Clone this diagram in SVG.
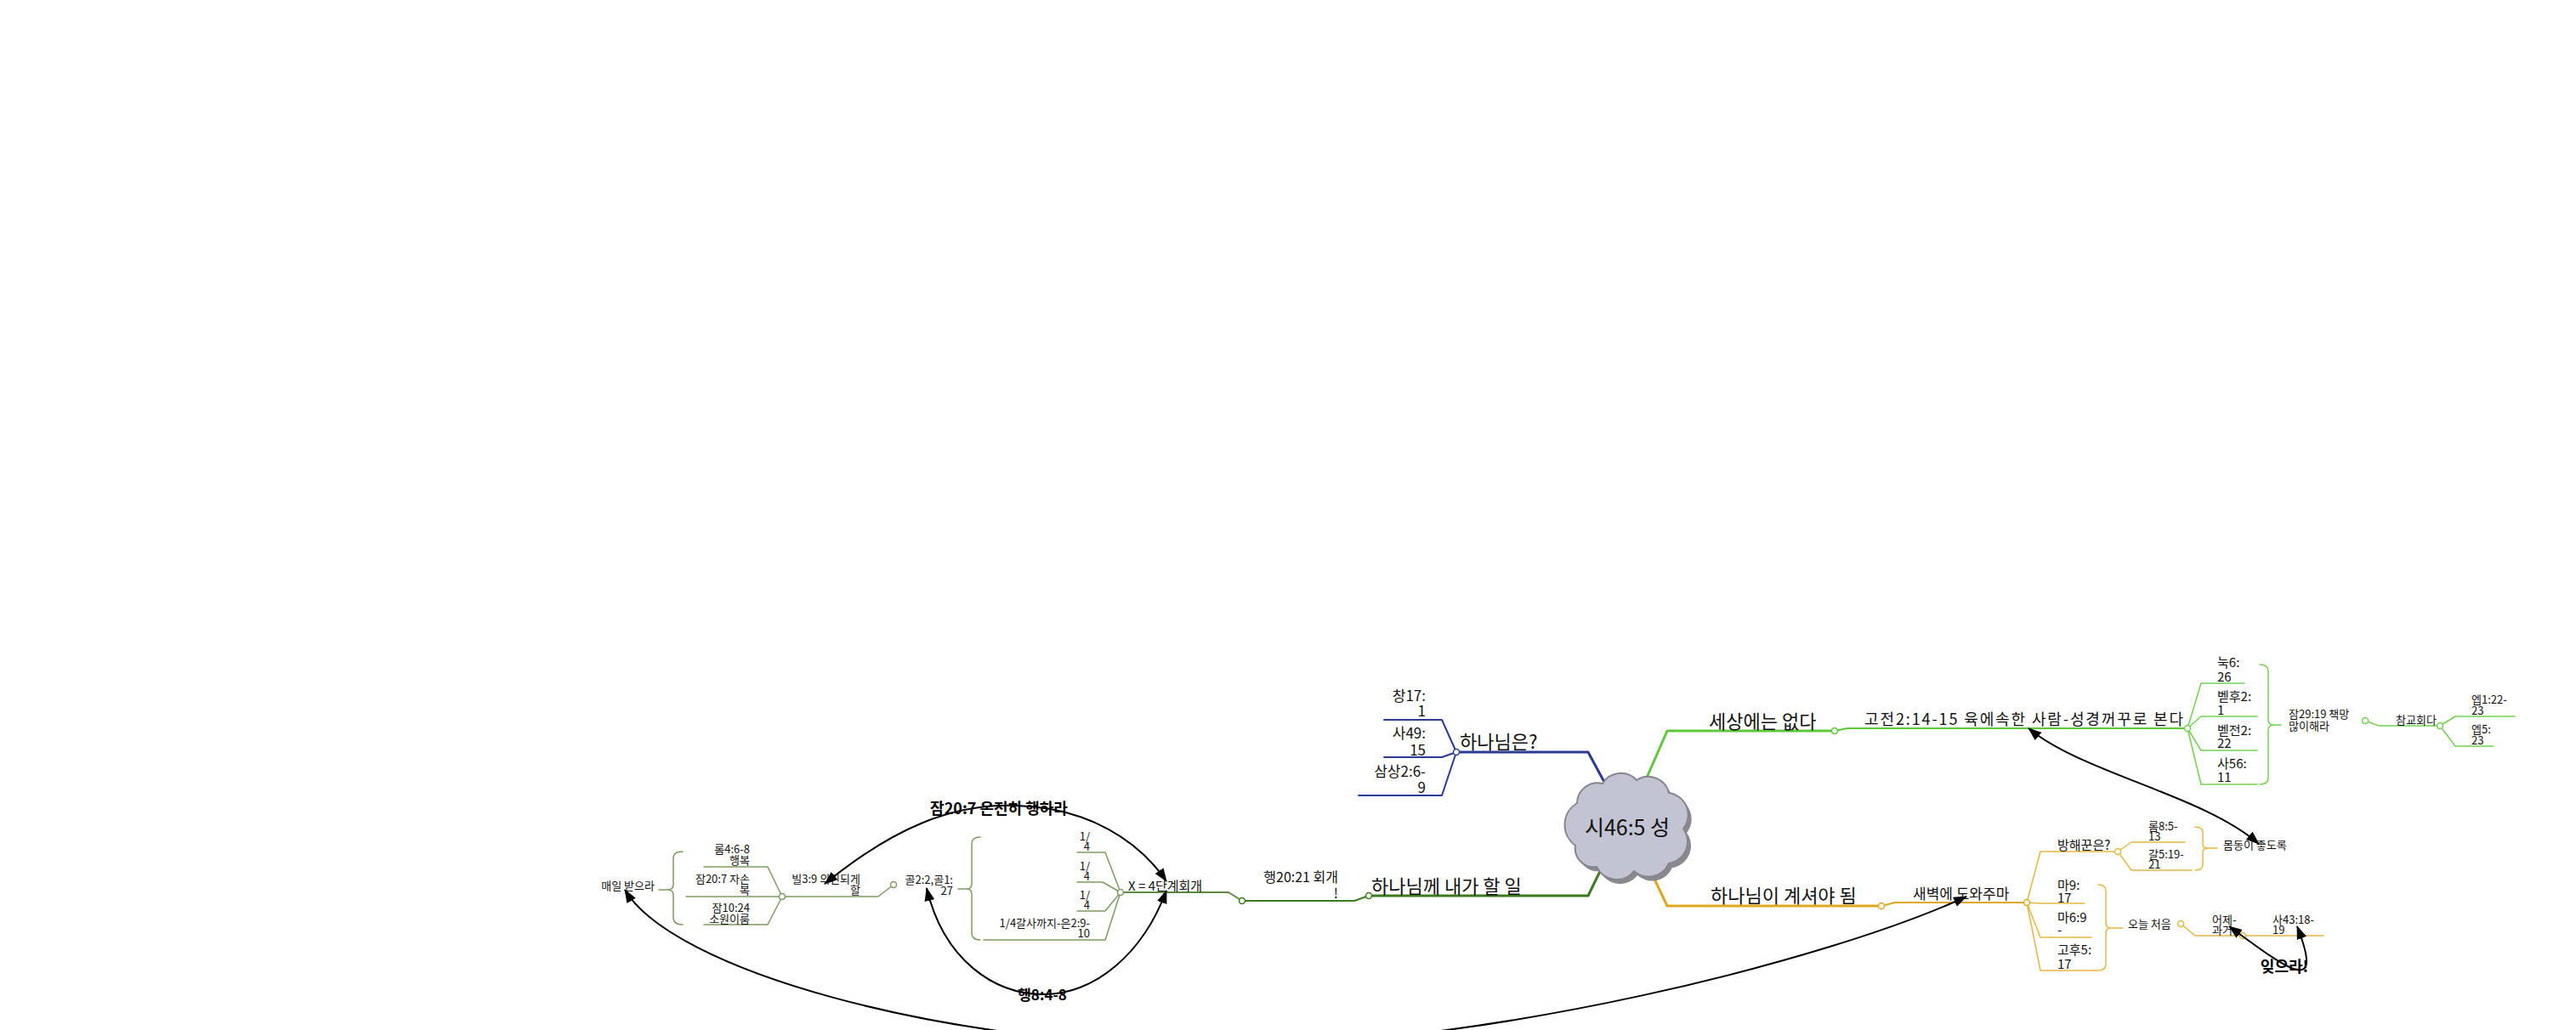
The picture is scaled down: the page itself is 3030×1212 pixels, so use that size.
<svg xmlns="http://www.w3.org/2000/svg" width="3030" height="1212" viewBox="0 0 3030 1212">
<style>
text{font-family:"Noto Sans CJK KR","Noto Sans",sans-serif;fill:#111}
.f22{font-size:22px}.f18{font-size:18px}.f17{font-size:17px}.f16{font-size:16px}.f15{font-size:15px}.f13{font-size:13px}
.e{text-anchor:end}.m{text-anchor:middle}
.lbl{font-weight:bold;fill:#000}
.ln{fill:none;stroke-linejoin:round;stroke-linecap:round}
.navy{stroke:#2b3a93}.dg{stroke:#3d7a1f}.sage{stroke:#7d9b62}.olive{stroke:#5e8a3e}.gr{stroke:#5cc83a}.lg{stroke:#72d250}.gold{stroke:#e0a820}.lgold{stroke:#e6b840}
.w3{stroke-width:3}.w2{stroke-width:2}.w15{stroke-width:1.5}
.dot{fill:#fff;stroke-width:1.5}
.rel{fill:none;stroke:#000;stroke-width:2;marker-start:url(#ah);marker-end:url(#ah)}
</style>
<defs>
<marker id="ah" viewBox="0 0 16 12" refX="15" refY="6" markerWidth="16" markerHeight="12" markerUnits="userSpaceOnUse" orient="auto-start-reverse"><path d="M0,0 L16,6 L0,12 z" fill="#000"/></marker>
<path id="cloud" d="M1853,995 A30,30 0 0 1 1855,945 A24,24 0 0 1 1885,922 A25,25 0 0 1 1925,918 A25,25 0 0 1 1963,933 A26,26 0 0 1 1980,975 A26,26 0 0 1 1963,1016 A26,26 0 0 1 1922,1025 A26,26 0 0 1 1878,1020 A22,22 0 0 1 1853,995 Z"/>
</defs>
<rect width="3030" height="1212" fill="#fff"/>
<g id="connectors">
<path class="ln navy w3" d="M1713,885 L1868,885 L1888,922"/>
<path class="ln navy w2" d="M1628,847 L1696,847 L1713,885"/>
<path class="ln navy w2" d="M1628,891 L1696,891 L1713,885"/>
<path class="ln navy w2" d="M1598,936 L1696,936 L1713,885"/>
<path class="ln dg w3" d="M1610,1054 L1868,1054 L1888,1013"/>
<path class="ln dg w2" d="M1461,1060 L1593,1060 L1610,1054"/>
<path class="ln olive w2" d="M1318,1050 L1445,1050 L1461,1060"/>
<path class="ln sage w15" d="M1267,1003 L1300,1003 L1318,1050"/>
<path class="ln sage w15" d="M1267,1038 L1297,1038 L1318,1050"/>
<path class="ln sage w15" d="M1267,1072 L1300,1072 L1318,1050"/>
<path class="ln sage w15" d="M1157,1106 L1300,1106 L1318,1050"/>
<path class="ln sage w15" d="M1153,985 Q1143,985 1143,993 L1143,1040 Q1143,1046 1137,1046 Q1143,1046 1143,1052 L1143,1098 Q1143,1106 1153,1106 M1137,1046 L1127,1046"/>
<path class="ln sage w15" d="M1051,1041 L1033,1055 L920,1055"/>
<path class="ln sage w15" d="M828,1020 L903,1020 L920,1055"/>
<path class="ln sage w15" d="M807,1055 L920,1055"/>
<path class="ln sage w15" d="M828,1088 L903,1088 L920,1055"/>
<path class="ln sage w15" d="M803,1002 Q792,1002 792,1010 L792,1041 Q792,1047 785,1047 Q792,1047 792,1053 L792,1080 Q792,1088 803,1088 M785,1047 L775,1047"/>
<path class="ln gr w3" d="M1937,915 L1961,860 L2158,860"/>
<path class="ln gr w2" d="M2158,860 L2173,857 L2573,857"/>
<path class="ln lg w15" d="M2573,857 L2589,804 L2640,804"/>
<path class="ln lg w15" d="M2573,857 L2589,843 L2655,843"/>
<path class="ln lg w15" d="M2573,857 L2589,883 L2655,883"/>
<path class="ln lg w15" d="M2573,857 L2589,923 L2655,923"/>
<path class="ln lg w15" d="M2658,782 Q2668,782 2668,790 L2668,847 Q2668,853 2675,853 Q2668,853 2668,859 L2668,915 Q2668,923 2658,923 M2675,853 L2683,853"/>
<path class="ln lg w15" d="M2782,848 L2798,854 L2870,854"/>
<path class="ln lg w15" d="M2870,854 L2888,843 L2958,843"/>
<path class="ln lg w15" d="M2870,854 L2888,878 L2933,878"/>
<path class="ln gold w3" d="M1943,1028 L1961,1066 L2213,1066"/>
<path class="ln gold w2" d="M2213,1066 L2229,1062 L2384,1062"/>
<path class="ln lgold w15" d="M2384,1062 L2400,1002 L2491,1002"/>
<path class="ln lgold w15" d="M2491,1002 L2507,991 L2570,991"/>
<path class="ln lgold w15" d="M2491,1002 L2507,1024 L2578,1024"/>
<path class="ln lgold w15" d="M2582,973 Q2591,973 2591,980 L2591,993 Q2591,998 2597,998 Q2591,998 2591,1003 L2591,1017 Q2591,1024 2582,1024 M2597,998 L2608,998"/>
<path class="ln lgold w15" d="M2384,1062 L2400,1063 L2452,1063"/>
<path class="ln lgold w15" d="M2384,1062 L2400,1103 L2460,1103"/>
<path class="ln lgold w15" d="M2384,1062 L2400,1142 L2467,1142"/>
<path class="ln lgold w15" d="M2468,1041 Q2477,1041 2477,1049 L2477,1086 Q2477,1092 2483,1092 Q2477,1092 2477,1098 L2477,1134 Q2477,1142 2468,1142 M2483,1092 L2497,1092"/>
<path class="ln lgold w15" d="M2565,1087 L2582,1101 L2638,1101"/>
<path class="ln lgold w15" d="M2638,1101 L2733,1101"/>
<circle class="dot navy" cx="1713" cy="885" r="3.5"/>
<circle class="dot dg" cx="1610" cy="1054" r="3.5"/>
<circle class="dot dg" cx="1461" cy="1060" r="3.5"/>
<circle class="dot sage" cx="1318" cy="1050" r="3.5"/>
<circle class="dot sage" cx="1051" cy="1041" r="3.5"/>
<circle class="dot sage" cx="920" cy="1055" r="3.5"/>
<circle class="dot gr" cx="2158" cy="860" r="3.5"/>
<circle class="dot lg" cx="2573" cy="857" r="3.5"/>
<circle class="dot lg" cx="2782" cy="848" r="3.5"/>
<circle class="dot lg" cx="2870" cy="854" r="3.5"/>
<circle class="dot gold" cx="2213" cy="1066" r="3.5"/>
<circle class="dot gold" cx="2384" cy="1062" r="3.5"/>
<circle class="dot lgold" cx="2491" cy="1002" r="3.5"/>
<circle class="dot lgold" cx="2565" cy="1087" r="3.5"/>
<circle class="dot lgold" cx="2638" cy="1101" r="3.5"/>
<path class="rel" d="M970,1040 C1050,975 1120,945 1195,948 C1280,950 1340,990 1372,1037"/>
<path class="rel" d="M1090,1045 C1110,1130 1170,1170 1227,1170 C1290,1170 1345,1120 1372,1048"/>
<path class="rel" d="M2386,857 C2450,910 2590,935 2657,993"/>
<path class="rel" d="M2622,1090 C2690,1140 2735,1175 2702,1090"/>
<path class="rel" d="M735,1047 C790,1140 1100,1230 1430,1232 C1750,1232 2150,1130 2313,1055"/>
<text class="f18 m lbl" x="1175" y="958">잠20:7 온전히 행하라</text>
<text class="f17 m lbl" x="1226" y="1177">행8:4-8</text>
<text class="f18 m lbl" x="2687" y="1144">잊으라!</text>
</g>
<g id="n-root">
<use href="#cloud" transform="translate(4,5)" fill="#8a8a8e"/>
<use href="#cloud" fill="#c3c4d3" stroke="#858590" stroke-width="2"/>
<text x="1914" y="983" class="m" style="font-size:25px">시46:5 성</text>
</g>
<g id="n-hananim"><text class="f22" x="1717" y="881">하나님은?</text></g>
<g id="n-chang"><text class="f17 e" x="1677" y="825">창17:<tspan x="1677" y="843">1</tspan></text></g>
<g id="n-sa49"><text class="f17 e" x="1677" y="869">사49:<tspan x="1677" y="889">15</tspan></text></g>
<g id="n-samsang"><text class="f17 e" x="1677" y="914">삼상2:6-<tspan x="1677" y="933">9</tspan></text></g>
<g id="n-myjob"><text class="f22" x="1613" y="1051">하나님께 내가 할 일</text></g>
<g id="n-act2021"><text class="f16 e" x="1574" y="1038">행20:21 회개<tspan x="1574" y="1057">!</tspan></text></g>
<g id="n-x4"><text class="f15" x="1327" y="1048">X = 4단계회개</text></g>
<g id="n-q1"><text class="f13 e" x="1282" y="989">1/<tspan x="1282" y="1001">4</tspan></text></g>
<g id="n-q2"><text class="f13 e" x="1282" y="1024">1/<tspan x="1282" y="1036">4</tspan></text></g>
<g id="n-q3"><text class="f13 e" x="1282" y="1058">1/<tspan x="1282" y="1070">4</tspan></text></g>
<g id="n-q4"><text class="f13 e" x="1282" y="1091">1/4갈사까지-은2:9-<tspan x="1282" y="1103">10</tspan></text></g>
<g id="n-col"><text class="f13 e" x="1121" y="1040">골2:2,골1:<tspan x="1121" y="1053">27</tspan></text></g>
<g id="n-phil"><text class="f13 e" x="1012" y="1039">빌3:9 의인되게<tspan x="1012" y="1052">할</tspan></text></g>
<g id="n-rom4"><text class="f13 e" x="882" y="1004">롬4:6-8<tspan x="882" y="1017">행복</tspan></text></g>
<g id="n-pr207"><text class="f13 e" x="882" y="1039">잠20:7 자손<tspan x="882" y="1052">복</tspan></text></g>
<g id="n-pr1024"><text class="f13 e" x="882" y="1073">잠10:24<tspan x="882" y="1086">소원이룸</tspan></text></g>
<g id="n-daily"><text class="f13 e" x="770" y="1047">매일 받으라</text></g>
<g id="n-world"><text class="f22" x="2010" y="857">세상에는 없다</text></g>
<g id="n-1cor"><text class="f18" x="2193" y="853" textLength="375">고전2:14-15 육에속한 사람-성경꺼꾸로 본다</text></g>
<g id="n-luke"><text class="f15" x="2608" y="785">눅6:<tspan x="2608" y="802">26</tspan></text></g>
<g id="n-2pet"><text class="f15" x="2608" y="825">벧후2:<tspan x="2608" y="841">1</tspan></text></g>
<g id="n-1pet"><text class="f15" x="2608" y="865">벧전2:<tspan x="2608" y="880">22</tspan></text></g>
<g id="n-isa56"><text class="f15" x="2608" y="904">사56:<tspan x="2608" y="920">11</tspan></text></g>
<g id="n-pr29"><text class="f13" x="2692" y="845">잠29:19 책망<tspan x="2692" y="859">많이해라</tspan></text></g>
<g id="n-church"><text class="f13" x="2818" y="852">참교회다</text></g>
<g id="n-eph1"><text class="f13" x="2907" y="828">엡1:22-<tspan x="2907" y="841">23</tspan></text></g>
<g id="n-eph5"><text class="f13" x="2907" y="863">엡5:<tspan x="2907" y="876">23</tspan></text></g>
<g id="n-presence"><text class="f22" x="2012" y="1062">하나님이 계셔야 됨</text></g>
<g id="n-dawn"><text class="f17" x="2250" y="1058">새벽에 도와주마</text></g>
<g id="n-hinder"><text class="f15" x="2420" y="1000">방해꾼은?</text></g>
<g id="n-rom8"><text class="f13" x="2527" y="977">롬8:5-<tspan x="2527" y="989">13</tspan></text></g>
<g id="n-gal5"><text class="f13" x="2527" y="1010">갈5:19-<tspan x="2527" y="1022">21</tspan></text></g>
<g id="n-body"><text class="f13" x="2615" y="999">몸동이 좋도록</text></g>
<g id="n-mt9"><text class="f15" x="2420" y="1047">마9:<tspan x="2420" y="1062">17</tspan></text></g>
<g id="n-mt6"><text class="f15" x="2420" y="1085">마6:9<tspan x="2420" y="1100">-</tspan></text></g>
<g id="n-2cor5"><text class="f15" x="2420" y="1123">고후5:<tspan x="2420" y="1140">17</tspan></text></g>
<g id="n-today"><text class="f13" x="2503" y="1092">오늘 처음</text></g>
<g id="n-yesterday"><text class="f13" x="2602" y="1087">어제-<tspan x="2602" y="1099">과거</tspan></text></g>
<g id="n-isa43"><text class="f13" x="2673" y="1087">사43:18-<tspan x="2673" y="1099">19</tspan></text></g>
</svg>
